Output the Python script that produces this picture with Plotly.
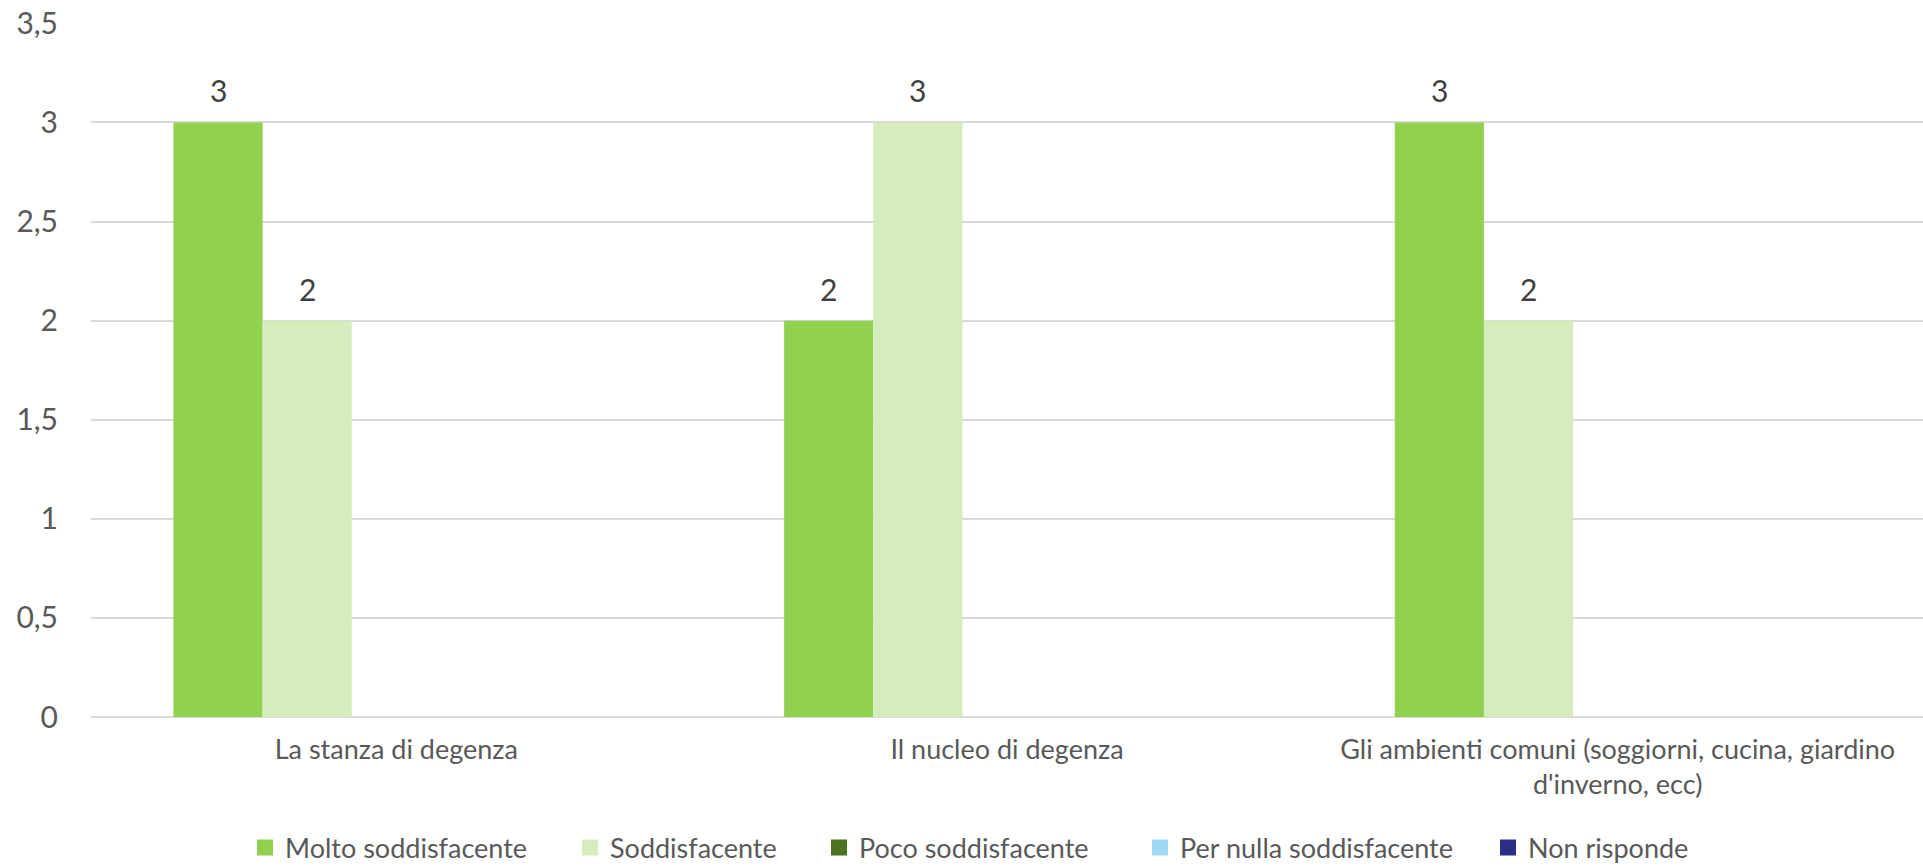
import plotly.graph_objects as go

categories = ["La stanza di degenza", "Il nucleo di degenza",
              "Gli ambienti comuni (soggiorni, cucina, giardino<br>d'inverno, ecc)"]
series_names = ["Molto soddisfacente", "Soddisfacente", "Poco soddisfacente",
                "Per nulla soddisfacente", "Non risponde"]
molto = [3, 2, 3]
soddisf = [2, 3, 2]
poco = [None, None, None]
per_nulla = [None, None, None]
non_risponde = [None, None, None]
values = [molto, soddisf, poco, per_nulla, non_risponde]
colors = ["#92D050", "#D5ECBC", "#4B7320", "#A0D9F4", "#2B3087"]
y_ticks = [0, 0.5, 1, 1.5, 2, 2.5, 3, 3.5]
y_tick_text = ["0", "0,5", "1", "1,5", "2", "2,5", "3", "3,5"]

FONT = "Lato"
W, H = 1923, 866
ML, MR, MT, MB = 91, 0, 23, 149
BARGAP = 0.27
# left edge (container px) of each legend entry
legend_x_px = [257, 582, 831, 1152, 1500]

fig = go.Figure()
for name, vals, col in zip(series_names, values, colors):
    fig.add_trace(go.Bar(
        x=categories, y=vals, name=name, marker_color=col, marker_line_width=0,
        showlegend=False,
    ))

# legend entries: one small legend per series, placed along the bottom
for k, (name, col) in enumerate(zip(series_names, colors)):
    lg = "legend" if k == 0 else f"legend{k + 1}"
    fig.add_trace(go.Scatter(
        x=[None], y=[None], mode="markers", name=name, legend=lg,
        marker=dict(symbol="square", size=17, color=col), showlegend=True,
    ))
    fig.update_layout({lg: dict(
        orientation="h", xref="container", yref="container",
        x=(legend_x_px[k] - 12) / W, xanchor="left",
        y=1 - 848 / H, yanchor="middle", bgcolor="rgba(0,0,0,0)",
        font=dict(family=FONT, size=27, color="#595959"),
        itemwidth=30,
    )})

# data labels above bars (position derived from the bar group geometry)
cat_px = (W - ML - MR) / len(categories)
bar_px = cat_px * (1 - BARGAP) / len(series_names)
n = len(series_names)
for i, vals in enumerate(values):
    for c, v in zip(categories, vals):
        if v is None:
            continue
        fig.add_annotation(x=c, y=v, xref="x", yref="y", text=str(v),
                           showarrow=False, yanchor="bottom",
                           xshift=(i - (n - 1) / 2) * bar_px, yshift=12,
                           font=dict(family=FONT, size=30, color="#404040"))

fig.update_layout(
    barmode="group", bargap=BARGAP, bargroupgap=0,
    width=W, height=H,
    margin=dict(l=ML, r=MR, t=MT, b=MB, autoexpand=False),
    paper_bgcolor="white", plot_bgcolor="white",
    font=dict(family=FONT, color="#595959"),
    showlegend=True,
)
fig.update_yaxes(range=[0, 3.502], tickvals=y_ticks, ticktext=y_tick_text,
                 showgrid=True, gridcolor="#D9D9D9", gridwidth=1.5,
                 zeroline=True, zerolinecolor="#D9D9D9", zerolinewidth=1.5,
                 showline=False, ticks="", ticklen=0, automargin=False,
                 ticklabelstandoff=32,
                 tickfont=dict(family=FONT, size=30, color="#595959"))
fig.update_xaxes(showline=False, ticks="", showgrid=False, automargin=False,
                 ticklabelstandoff=14,
                 tickfont=dict(family=FONT, size=27, color="#595959"))

fig.write_html("out.html", config={"displayModeBar": False},
               post_script="document.body.style.margin='0';document.body.style.overflow='hidden';")
